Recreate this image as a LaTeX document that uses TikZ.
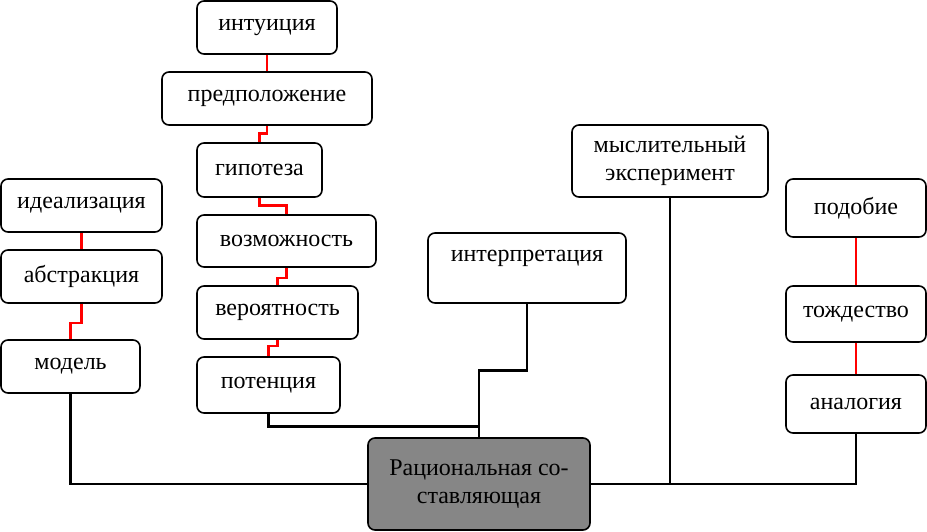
\documentclass[tikz,border=0pt]{standalone}
\usepackage{fontspec}
\setmainfont{Liberation Serif}
\usepackage{tikz}

\definecolor{corefill}{RGB}{134,134,134}

\begin{document}
\begin{tikzpicture}[
    x=1pt, y=-1pt,
    box/.style={rectangle, draw, rounded corners=7pt, line width=1.6pt, fill=white, align=center, minimum height=53pt, inner sep=2pt, font=\fontsize{24}{28}\selectfont},
    link/.style={line width=2.7pt},
    redlink/.style={line width=2.6pt, red}
]
\useasboundingbox (0,0) rectangle (927,532);

% Central column of assumptions
\node[box, minimum width=140pt] (intu) at (267,27.5) {интуиция};
\node[box, minimum width=210pt] (pred) at (267,98.5) {предположение};
\node[box, minimum width=125pt, minimum height=54pt] (gip) at (259.5,170) {гипотеза};
\node[box, minimum width=179pt, minimum height=52pt] (voz) at (286.5,241) {возможность};
\node[box, minimum width=161pt] (ver) at (277.5,312.5) {вероятность};
\node[box, minimum width=143pt, minimum height=56pt] (pot) at (268.5,385) {потенция};

% Left column
\node[box, minimum width=161pt] (ideal) at (81.5,205.5) {идеализация};
\node[box, minimum width=161pt] (abstr) at (81.5,276.5) {абстракция};
\node[box, minimum width=139pt] (model) at (70.5,366.5) {модель};

% Middle and right boxes
\node[box, minimum width=198pt, minimum height=70pt, text height=11pt, text depth=25pt] (interp) at (527,268) {интерпретация};
\node[box, minimum width=196pt, minimum height=72pt] (myslit) at (670,161) {мыслительный\\эксперимент};
\node[box, minimum width=140pt, minimum height=58pt] (podob) at (856,208) {подобие};
\node[box, minimum width=140pt, minimum height=56pt] (tozhd) at (856,314) {тождество};
\node[box, minimum width=140pt, minimum height=58pt] (analog) at (856,404) {аналогия};

% Root
\node[box, fill=corefill, minimum width=222pt, minimum height=92pt] (core) at (479,484) {Рациональная со-\\ставляющая};
\coordinate (join) at ([yshift=11pt]core.north);

% Red links inside the chains
\draw[redlink] (intu) -- (pred);
\draw[redlink] (pred.south) -- ++(0,8) -| (gip.north);
\draw[redlink] (gip.south) -- ++(0,8) -| (voz.north);
\draw[redlink] (voz.south) -- ++(0,10) -| (ver.north);
\draw[redlink] (ver.south) -- ++(0,6) -| (pot.north);
\draw[redlink] (ideal) -- (abstr);
\draw[redlink] (abstr.south) -- ++(0,19) -| (model.north);
\draw[redlink] (podob) -- (tozhd);
\draw[redlink] (tozhd) -- (analog);

% Black links to the root
\draw[link] (model.south) |- (core.west);
\draw[link] (pot.south) |- (join);
\draw[link] (interp.south) -- ++(0,67) -| (core.north);
\draw[link] (myslit.south) -- (myslit.south |- core.east);
\draw[link] (core.east) -| (analog.south);

\end{tikzpicture}
\end{document}
